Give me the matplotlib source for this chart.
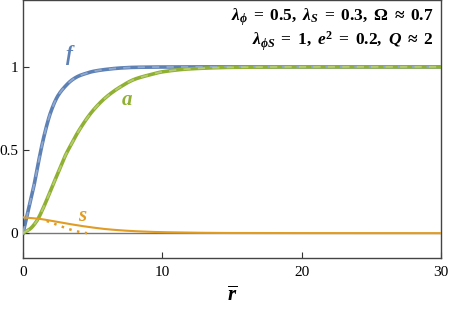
import numpy as np
import matplotlib.pyplot as plt

plt.rcParams['font.family'] = ['Liberation Serif', 'DejaVu Serif']
plt.rcParams['mathtext.fontset'] = 'custom'
plt.rcParams['mathtext.rm'] = 'Liberation Serif:bold'
plt.rcParams['mathtext.it'] = 'Liberation Serif:italic:bold'
plt.rcParams['mathtext.bf'] = 'Liberation Serif:bold'
plt.rcParams['mathtext.fallback'] = 'stix'

# field profiles
r_f = [0, 0.25, 0.5, 0.75, 1, 1.5, 2, 2.5, 3, 3.5, 4, 4.5, 5, 6, 7, 8, 10, 15, 30]
f_vals = [0, 0.09, 0.18, 0.27, 0.38, 0.58, 0.73, 0.825, 0.88, 0.92, 0.945, 0.96,
          0.972, 0.985, 0.993, 0.997, 0.999, 1.0, 1.0]

r_a = [0, 0.5, 1, 1.5, 2, 2.5, 3, 3.5, 4, 5, 6, 7, 8, 9, 10, 12, 15, 20, 30]
a_vals = [0, 0.025, 0.075, 0.16, 0.26, 0.36, 0.46, 0.54, 0.615, 0.735, 0.82, 0.88,
          0.925, 0.95, 0.97, 0.988, 0.997, 1.0, 1.0]

r_s = [0, 1, 2, 3, 4, 5, 6, 8, 10, 15, 30]
s_vals = [0.095, 0.088, 0.075, 0.060, 0.046, 0.034, 0.024, 0.012, 0.006, 0.001, 0.0]

# small-r approximation of s (dotted)
r_s_approx = [1.7, 2.2, 2.7, 3.2, 3.7, 4.2, 4.6]
s_approx = [0.073, 0.058, 0.042, 0.027, 0.014, 0.005, 0.0]

blue = '#5E81B5'
green = '#8FB032'
orange = '#E19C24'


def pchip(x, y, n=600):
    # monotone cubic through the read-off points
    x = np.asarray(x, float)
    y = np.asarray(y, float)
    h = np.diff(x)
    d = np.diff(y) / h
    m = np.zeros_like(y)
    for k in range(1, len(x) - 1):
        if d[k - 1] * d[k] > 0:
            w1 = 2 * h[k] + h[k - 1]
            w2 = h[k] + 2 * h[k - 1]
            m[k] = (w1 + w2) / (w1 / d[k - 1] + w2 / d[k])
    m[0] = d[0]
    m[-1] = d[-1]
    xs = np.linspace(x[0], x[-1], n)
    i = np.clip(np.searchsorted(x, xs) - 1, 0, len(x) - 2)
    t = (xs - x[i]) / h[i]
    h00 = 2 * t**3 - 3 * t**2 + 1
    h10 = t**3 - 2 * t**2 + t
    h01 = -2 * t**3 + 3 * t**2
    h11 = t**3 - t**2
    ys = h00 * y[i] + h10 * h[i] * m[i] + h01 * y[i + 1] + h11 * h[i] * m[i + 1]
    return xs, ys


fig = plt.figure(figsize=(4.49, 3.14), dpi=100)
ax = fig.add_axes([0.0512, 0.178, 0.931, 0.821])

ax.axhline(0, color='#777777', lw=1.0, zorder=1)

xf, yf = pchip(r_f, f_vals)
xa, ya = pchip(r_a, a_vals)
ax.plot(xf, yf, color=blue, lw=2.6, zorder=2)
ax.plot(xa, ya, color=green, lw=2.6, zorder=3)
ax.plot(xf, yf, color='#8FA8D0', lw=1.3, ls=(0, (4, 4)), zorder=4)
ax.plot(xa, ya, color='#B5CC6E', lw=1.3, ls=(0, (4, 4)), zorder=5)

xs, ys = pchip(r_s, s_vals)
ax.plot(xs, ys, color=orange, lw=1.5, zorder=6)
ax.plot(r_s_approx, s_approx, color=orange, lw=1.8, ls=(0, (1, 2.2)), zorder=6)

ax.text(3.4, 1.07, r'$f$', color=blue, fontsize=15, ha='center', va='center')
ax.text(7.45, 0.80, r'$a$', color=green, fontsize=15, ha='center', va='center')
ax.text(4.3, 0.10, r'$s$', color=orange, fontsize=15, ha='center', va='center')

ax.text(0.981, 0.975,
        r'$\lambda_\phi\;=\;0.5,\ \lambda_S\;=\;0.3,\ \Omega\;\approx\;0.7$' + '\n'
        r'$\lambda_{\phi S}\;=\;1,\ e^2\;=\;0.2,\ Q\;\approx\;2$',
        transform=ax.transAxes, ha='right', va='top', fontsize=12.5,
        multialignment='right', linespacing=1.1)

ax.set_xlim(0, 30)
ax.set_ylim(-0.15, 1.40)
ax.set_xticks([0, 10, 20, 30])
ax.set_yticks([0, 0.5, 1])
ax.set_yticklabels(['0', '0.5', '1'])
ax.tick_params(direction='in', length=4, width=0.8, labelsize=11, colors='#333333',
               labelcolor='black')
ax.tick_params(axis='x', pad=6)
for sp in ax.spines.values():
    sp.set_color('#444444')
    sp.set_linewidth(1.0)

ax.set_xlabel(r'$\overline{r}$', fontsize=15, labelpad=5)

fig.savefig('out.png', dpi=100)
